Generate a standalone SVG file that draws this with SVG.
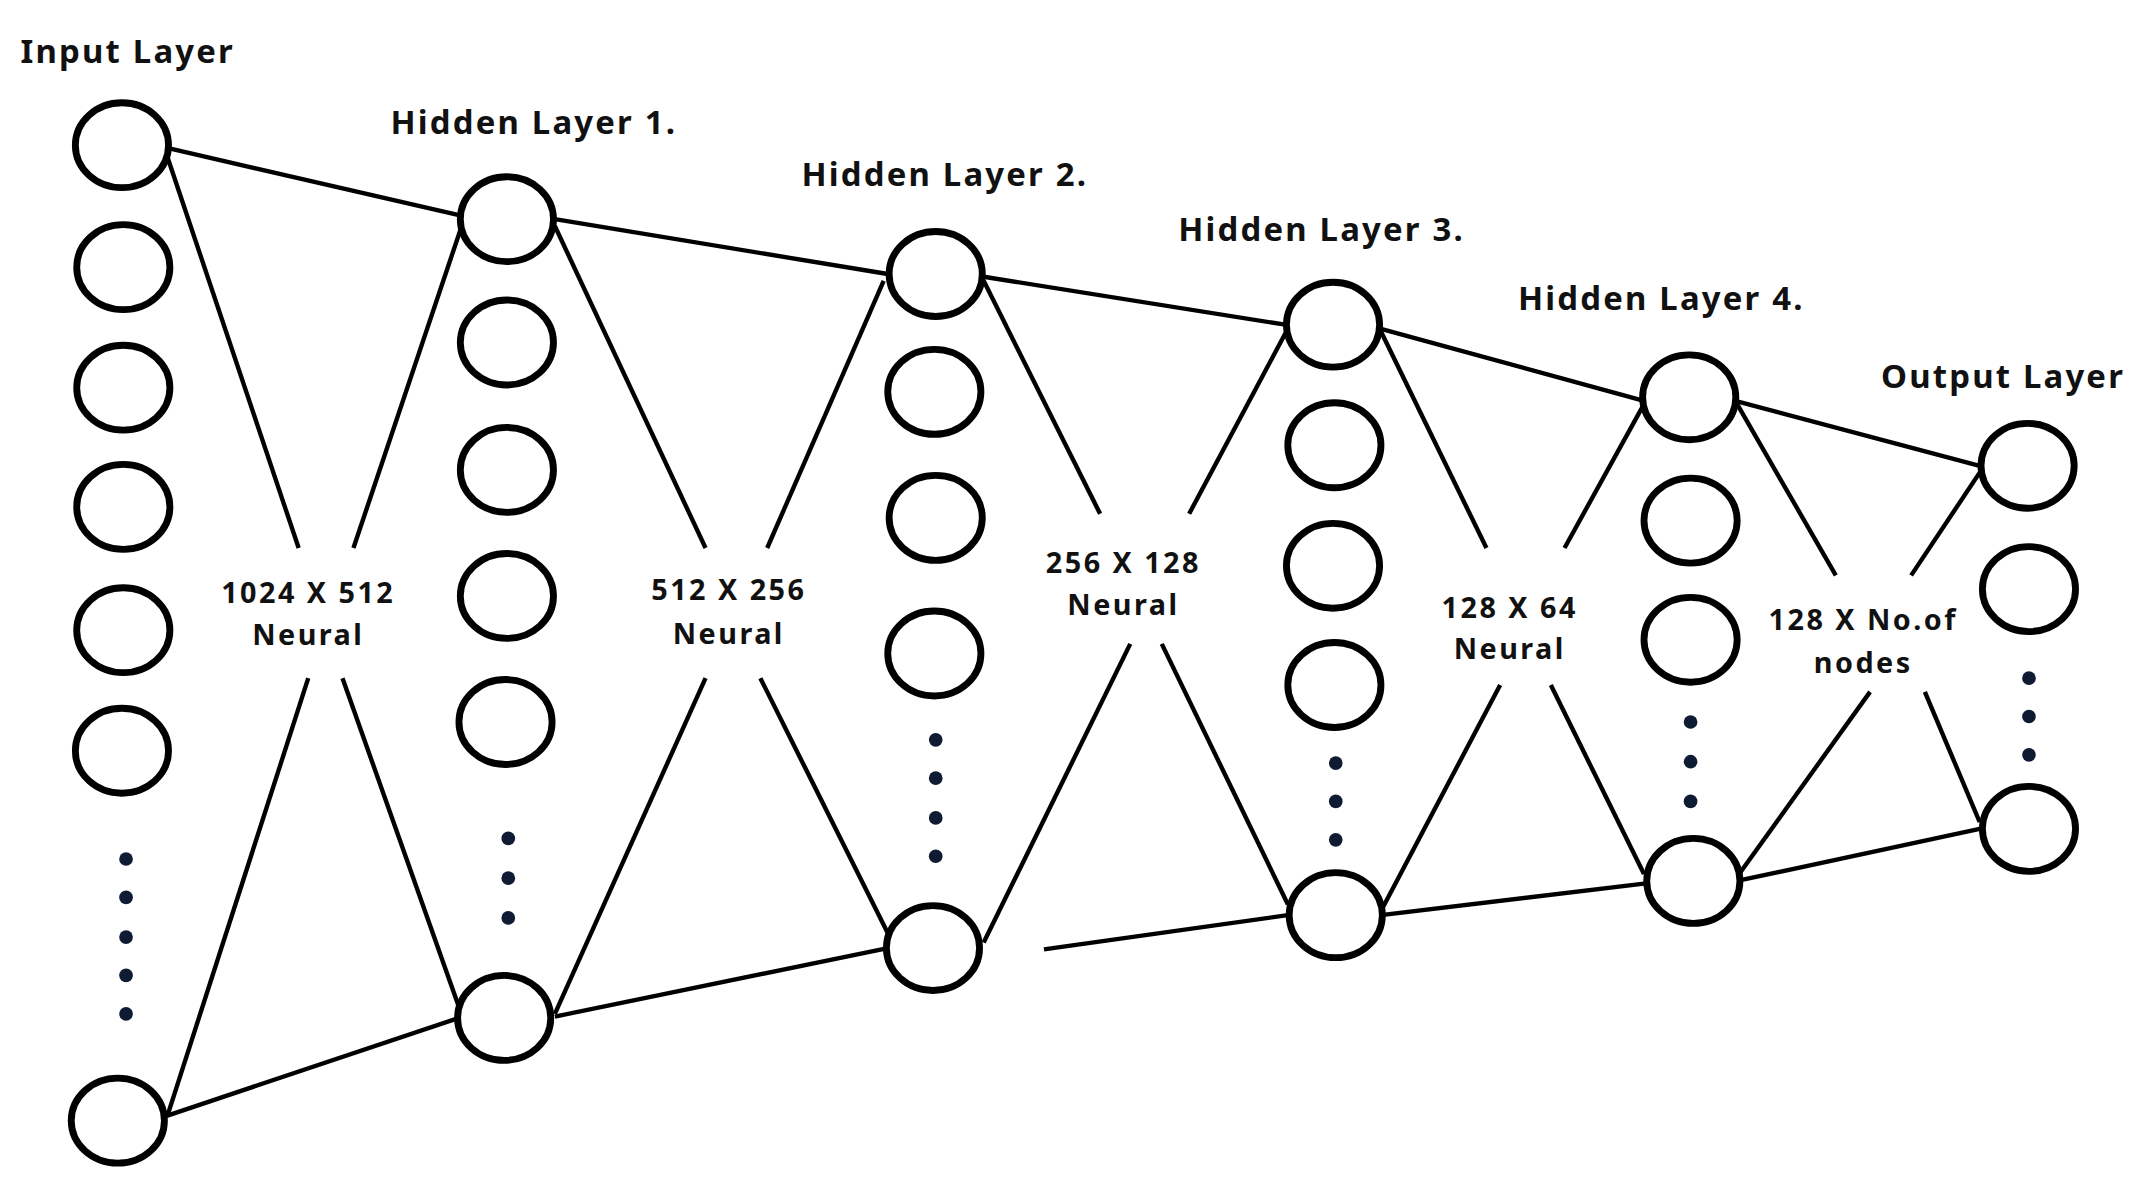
<svg xmlns="http://www.w3.org/2000/svg" width="2148" height="1194" viewBox="0 0 2148 1194">
<style>
.n{fill:#fff;stroke:#000;stroke-width:5}
.d{fill:#0f1a33}
.c line{stroke:#000;stroke-width:3.2}
.t{font-family:"Noto Sans","DejaVu Sans",sans-serif;font-weight:bold;font-size:24px;letter-spacing:1.6px;fill:#111}
.l{font-family:"Noto Sans","DejaVu Sans",sans-serif;font-weight:bold;font-size:21px;letter-spacing:1.8px;fill:#111;text-anchor:middle}
</style>
<rect width="2148" height="1194" fill="#fff"/>
<g transform="scale(1.37)">
<g id="connectors" class="c">
<line x1="122" y1="108" x2="335" y2="157"/><line x1="405" y1="160" x2="648" y2="200"/><line x1="718" y1="202" x2="938" y2="237"/><line x1="1008" y1="240" x2="1198" y2="292"/><line x1="1268" y1="293" x2="1445" y2="340"/>
<line x1="120" y1="815" x2="335" y2="743"/><line x1="405" y1="742" x2="648" y2="692"/><line x1="762" y1="693" x2="940" y2="668"/><line x1="1008" y1="668" x2="1200" y2="645"/><line x1="1268" y1="643" x2="1445" y2="605"/>
<line x1="120" y1="108" x2="218" y2="400"/><line x1="258" y1="400" x2="338" y2="162"/><line x1="225" y1="495" x2="122" y2="815"/><line x1="250" y1="495" x2="335" y2="735"/>
<line x1="405" y1="165" x2="515" y2="400"/><line x1="560" y1="400" x2="645" y2="205"/><line x1="515" y1="495" x2="405" y2="740"/><line x1="555" y1="495" x2="650" y2="685"/>
<line x1="718" y1="205" x2="803" y2="375"/><line x1="868" y1="375" x2="940" y2="240"/><line x1="825" y1="470" x2="718" y2="688"/><line x1="848" y1="470" x2="940" y2="660"/>
<line x1="1008" y1="242" x2="1085" y2="400"/><line x1="1142" y1="400" x2="1200" y2="295"/><line x1="1095" y1="500" x2="1008" y2="665"/><line x1="1132" y1="500" x2="1200" y2="638"/>
<line x1="1268" y1="295" x2="1340" y2="420"/><line x1="1395" y1="420" x2="1445" y2="345"/><line x1="1365" y1="505" x2="1268" y2="640"/><line x1="1405" y1="505" x2="1445" y2="600"/>
</g>
<g id="input">
<text class="t" x="15" y="46">Input Layer</text>
<ellipse class="n" cx="89" cy="106" rx="34" ry="31"/><ellipse class="n" cx="90" cy="195" rx="34" ry="31"/><ellipse class="n" cx="90" cy="283" rx="34" ry="31"/><ellipse class="n" cx="90" cy="370" rx="34" ry="31"/><ellipse class="n" cx="90" cy="460" rx="34" ry="31"/><ellipse class="n" cx="89" cy="548" rx="34" ry="31"/><ellipse class="n" cx="86" cy="818" rx="34" ry="31"/>
<circle class="d" cx="92" cy="627" r="5"/><circle class="d" cx="92" cy="655" r="5"/><circle class="d" cx="92" cy="684" r="5"/><circle class="d" cx="92" cy="712" r="5"/><circle class="d" cx="92" cy="740" r="5"/>
</g>
<g id="hidden1">
<text class="t" x="285" y="98">Hidden Layer 1.</text>
<ellipse class="n" cx="370" cy="160" rx="34" ry="31"/><ellipse class="n" cx="370" cy="250" rx="34" ry="31"/><ellipse class="n" cx="370" cy="343" rx="34" ry="31"/><ellipse class="n" cx="370" cy="435" rx="34" ry="31"/><ellipse class="n" cx="369" cy="527" rx="34" ry="31"/><ellipse class="n" cx="368" cy="743" rx="34" ry="31"/>
<circle class="d" cx="371" cy="612" r="5"/><circle class="d" cx="371" cy="641" r="5"/><circle class="d" cx="371" cy="670" r="5"/>
</g>
<g id="hidden2">
<text class="t" x="585" y="136">Hidden Layer 2.</text>
<ellipse class="n" cx="683" cy="200" rx="34" ry="31"/><ellipse class="n" cx="682" cy="286" rx="34" ry="31"/><ellipse class="n" cx="683" cy="378" rx="34" ry="31"/><ellipse class="n" cx="682" cy="477" rx="34" ry="31"/><ellipse class="n" cx="681" cy="692" rx="34" ry="31"/>
<circle class="d" cx="683" cy="540" r="5"/><circle class="d" cx="683" cy="568" r="5"/><circle class="d" cx="683" cy="597" r="5"/><circle class="d" cx="683" cy="625" r="5"/>
</g>
<g id="hidden3">
<text class="t" x="860" y="176">Hidden Layer 3.</text>
<ellipse class="n" cx="973" cy="237" rx="34" ry="31"/><ellipse class="n" cx="974" cy="325" rx="34" ry="31"/><ellipse class="n" cx="973" cy="413" rx="34" ry="31"/><ellipse class="n" cx="974" cy="500" rx="34" ry="31"/><ellipse class="n" cx="975" cy="668" rx="34" ry="31"/>
<circle class="d" cx="975" cy="557" r="5"/><circle class="d" cx="975" cy="585" r="5"/><circle class="d" cx="975" cy="613" r="5"/>
</g>
<g id="hidden4">
<text class="t" x="1108" y="226">Hidden Layer 4.</text>
<ellipse class="n" cx="1233" cy="290" rx="34" ry="31"/><ellipse class="n" cx="1234" cy="380" rx="34" ry="31"/><ellipse class="n" cx="1234" cy="467" rx="34" ry="31"/><ellipse class="n" cx="1236" cy="643" rx="34" ry="31"/>
<circle class="d" cx="1234" cy="527" r="5"/><circle class="d" cx="1234" cy="556" r="5"/><circle class="d" cx="1234" cy="585" r="5"/>
</g>
<g id="output">
<text class="t" x="1373" y="283">Output Layer</text>
<ellipse class="n" cx="1480" cy="340" rx="34" ry="31"/><ellipse class="n" cx="1481" cy="430" rx="34" ry="31"/><ellipse class="n" cx="1481" cy="605" rx="34" ry="31"/>
<circle class="d" cx="1481" cy="495" r="5"/><circle class="d" cx="1481" cy="523" r="5"/><circle class="d" cx="1481" cy="551" r="5"/>
</g>
<g id="labels">
<text class="l" x="225" y="440">1024 X 512</text><text class="l" x="225" y="471">Neural</text>
<text class="l" x="532" y="438">512 X 256</text><text class="l" x="532" y="470">Neural</text>
<text class="l" x="820" y="418">256 X 128</text><text class="l" x="820" y="449">Neural</text>
<text class="l" x="1102" y="451">128 X 64</text><text class="l" x="1102" y="481">Neural</text>
<text class="l" x="1360" y="460">128 X No.of</text><text class="l" x="1360" y="491">nodes</text>
</g>
</g>
</svg>
